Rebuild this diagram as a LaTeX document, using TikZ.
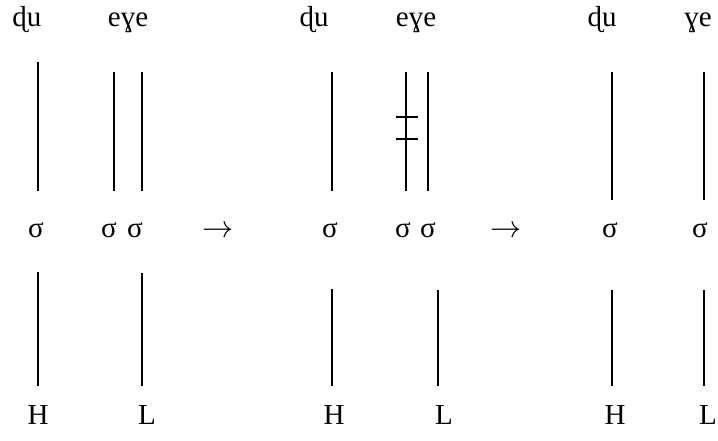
\documentclass[tikz,border=0pt]{standalone}
\usepackage{fontspec}
\setmainfont{Liberation Serif}
\usetikzlibrary{calc, positioning}

\begin{document}
\begin{tikzpicture}[x=1pt, y=-1pt,
    seg/.style={inner sep=0pt, anchor=base, font=\fontsize{29}{34}\selectfont},
    rulearrow/.style={inner sep=0pt, anchor=base, scale=1.25, font=\fontsize{24.88}{30}\selectfont},
    assoc/.style={line width=1.3pt},
    delink/.style={line width=1.3pt}]
  \useasboundingbox (0,0) rectangle (718,441);

  % segmental tier
  \node[seg] (m1) at (27,27) {ɖu};
  \node[seg] (m2) at (128,27) {eɣe};
  \node[seg] (m3) at (314,27) {ɖu};
  \node[seg] (m4) at (416,27) {eɣe};
  \node[seg] (m5) at (602,27) {ɖu};
  \node[seg] (m6) at (698,27) {ɣe};

  % syllables
  \node[seg] (s1) at (36,237) {σ};
  \node[seg] (s2) at (109,237) {σ};
  \node[seg] (s3) at (135,237) {σ};
  \node[seg] (s4) at (330,237) {σ};
  \node[seg] (s5) at (403,237) {σ};
  \node[seg] (s6) at (428,237) {σ};
  \node[seg] (s7) at (610,237) {σ};
  \node[seg] (s8) at (700,237) {σ};
  \node[rulearrow] (r1) at (218,237) {$\rightarrow$};
  \node[rulearrow] (r2) at (506,237) {$\rightarrow$};

  % tones
  \node[seg] (t1) at (38,424) {H};
  \node[seg] (t2) at (147,424) {L};
  \node[seg] (t3) at (334,424) {H};
  \node[seg] (t4) at (444,424) {L};
  \node[seg] (t5) at (615,424) {H};
  \node[seg] (t6) at (708,424) {L};

  % association lines
  \foreach \n/\x/\ya/\yb in {a1/38/62/191, a2/114/72/191, a3/142/72/191,
      a4/332/72/191, a5/406/72/191, a6/428/72/191, a7/612/72/200, a8/704/72/200,
      b1/38/272/386, b2/142/273/386, b3/332/289/386, b4/438/290/386,
      b5/612/290/386, b6/704/290/386}{
    \coordinate (\n-top) at (\x,\ya);
    \coordinate (\n-bot) at (\x,\yb);
    \draw[assoc] (\n-top) -- (\n-bot);
  }

  % delinking marks
  \coordinate (d1-l) at (396,117);
  \coordinate (d1-r) at (418,117);
  \coordinate (d2-l) at (396,139);
  \coordinate (d2-r) at (418,139);
  \draw[delink] (d1-l) -- (d1-r);
  \draw[delink] (d2-l) -- (d2-r);
\end{tikzpicture}
\end{document}
